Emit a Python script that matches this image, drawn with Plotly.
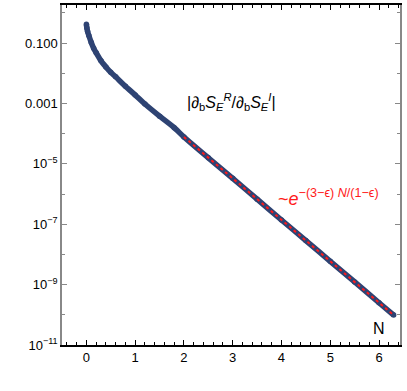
import plotly.graph_objects as go

# Data
N_vals = [0, 0.01, 0.025, 0.05, 0.1, 0.15, 0.2, 0.3, 0.4, 0.5, 0.6, 0.8, 1.0,
          1.2, 1.5, 1.8, 2.0, 2.5, 3.0, 3.5, 4.0, 4.5, 5.0, 5.5, 6.0, 6.3]
ratio_vals = [0.417, 0.316, 0.240, 0.178, 0.105, 0.0668, 0.0479, 0.0257, 0.0162,
              0.0107, 0.00759, 0.00372, 0.00191, 9.55e-4, 3.80e-4, 1.58e-4,
              7.76e-5, 1.58e-5, 3.31e-6, 6.76e-7, 1.38e-7, 2.88e-8, 5.89e-9, 1.23e-9,
              2.51e-10, 9.77e-11]
fit_N = [2.0, 6.3]
fit_vals = [7.76e-5, 9.77e-11]

y_tickvals = [0.1, 1e-3, 1e-5, 1e-7, 1e-9, 1e-11]
y_ticktext = ["0.100", "0.001", "10<sup>−5</sup>", "10<sup>−7</sup>", "10<sup>−9</sup>", "10<sup>−11</sup>"]
y_minor = [1e-2, 1e-4, 1e-6, 1e-8, 1e-10, 1.0]
x_tickvals = [0, 1, 2, 3, 4, 5, 6]

blue = "#2e4373"
font = "Liberation Sans, Arial, sans-serif"

fig = go.Figure()
fig.add_trace(go.Scatter(x=N_vals, y=ratio_vals, mode="lines+markers",
                         line=dict(color=blue, width=5.5, shape="spline", smoothing=0.6),
                         marker=dict(color=blue, size=5.5), showlegend=False))
fig.add_trace(go.Scatter(x=fit_N, y=fit_vals, mode="lines",
                         line=dict(color="#ff1a1a", width=2, dash="dot"), showlegend=False))

fig.add_annotation(x=2.97, y=-2.95, xref="x", yref="y",
                   text="|∂<sub>b</sub><i>S</i><sub><i>E</i></sub><sup><i>R</i></sup>/∂<sub>b</sub><i>S</i><sub><i>E</i></sub><sup><i>I</i></sup>|",
                   showarrow=False, font=dict(family=font, size=16, color="black"))
fig.add_annotation(x=4.97, y=-6.1, xref="x", yref="y",
                   text="~<i>e</i><sup>−(3−ϵ) <i>N</i>/(1−ϵ)</sup>",
                   showarrow=False, font=dict(family=font, size=18, color="#ff1a1a"))
fig.add_annotation(x=6.0, y=-10.45, xref="x", yref="y", text="N",
                   showarrow=False, font=dict(family=font, size=16, color="black"))

fig.update_xaxes(range=[-0.5, 6.43], tickvals=x_tickvals, ticks="inside", ticklen=5,
                 tickcolor="black", showline=True, linecolor="black", linewidth=1.5,
                 mirror="ticks", showgrid=False, zeroline=False, automargin=False,
                 minor=dict(dtick=0.2, tick0=0, ticks="inside", ticklen=3, tickcolor="black"),
                 tickfont=dict(family=font, size=13, color="black"))
fig.update_yaxes(type="log", range=[-11, 0.26], tickvals=y_tickvals, ticktext=y_ticktext,
                 ticks="inside", ticklen=5, tickcolor="#888888", showline=True,
                 linecolor="#888888", linewidth=1.5, mirror="ticks", showgrid=False,
                 zeroline=False, automargin=False,
                 minor=dict(tickvals=y_minor, ticks="inside", ticklen=3, tickcolor="#888888"),
                 tickfont=dict(family=font, size=13, color="black"))

fig.update_layout(width=407, height=391, margin=dict(l=62, r=7, t=5, b=46),
                  plot_bgcolor="white", paper_bgcolor="white", font=dict(family=font))
fig.write_html("out.html", config={"displayModeBar": False},
               post_script="document.body.style.margin='0';")
